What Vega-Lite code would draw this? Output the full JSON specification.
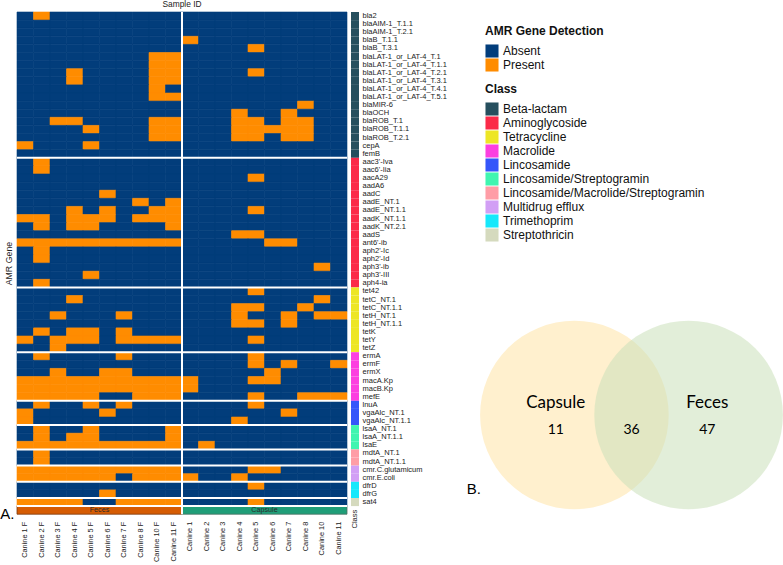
{
"$schema":"https://vega.github.io/schema/vega-lite/v6.json",
"padding":0,
"config":{"view":{"stroke":null},"font":"Liberation Sans","legend":{"padding":0}},
"datasets":{
"cells":[
{"g":"bla2","s":"1 F","v":0},{"g":"bla2","s":"2 F","v":1},{"g":"bla2","s":"3 F","v":0},{"g":"bla2","s":"4 F","v":0},{"g":"bla2","s":"5 F","v":0},{"g":"bla2","s":"6 F","v":0},{"g":"bla2","s":"7 F","v":0},{"g":"bla2","s":"8 F","v":0},{"g":"bla2","s":"10 F","v":0},{"g":"bla2","s":"11 F","v":0},{"g":"bla2","s":"1","v":0},{"g":"bla2","s":"2","v":0},{"g":"bla2","s":"3","v":0},{"g":"bla2","s":"4","v":0},{"g":"bla2","s":"5","v":0},{"g":"bla2","s":"6","v":0},{"g":"bla2","s":"7","v":0},{"g":"bla2","s":"8","v":0},{"g":"bla2","s":"10","v":0},{"g":"bla2","s":"11","v":0},
{"g":"blaAIM-1_T.1.1","s":"1 F","v":0},{"g":"blaAIM-1_T.1.1","s":"2 F","v":0},{"g":"blaAIM-1_T.1.1","s":"3 F","v":0},{"g":"blaAIM-1_T.1.1","s":"4 F","v":0},{"g":"blaAIM-1_T.1.1","s":"5 F","v":0},{"g":"blaAIM-1_T.1.1","s":"6 F","v":0},{"g":"blaAIM-1_T.1.1","s":"7 F","v":0},{"g":"blaAIM-1_T.1.1","s":"8 F","v":0},{"g":"blaAIM-1_T.1.1","s":"10 F","v":0},{"g":"blaAIM-1_T.1.1","s":"11 F","v":0},{"g":"blaAIM-1_T.1.1","s":"1","v":0},{"g":"blaAIM-1_T.1.1","s":"2","v":0},{"g":"blaAIM-1_T.1.1","s":"3","v":0},{"g":"blaAIM-1_T.1.1","s":"4","v":0},{"g":"blaAIM-1_T.1.1","s":"5","v":0},{"g":"blaAIM-1_T.1.1","s":"6","v":0},{"g":"blaAIM-1_T.1.1","s":"7","v":0},{"g":"blaAIM-1_T.1.1","s":"8","v":0},{"g":"blaAIM-1_T.1.1","s":"10","v":0},{"g":"blaAIM-1_T.1.1","s":"11","v":0},
{"g":"blaAIM-1_T.2.1","s":"1 F","v":0},{"g":"blaAIM-1_T.2.1","s":"2 F","v":0},{"g":"blaAIM-1_T.2.1","s":"3 F","v":0},{"g":"blaAIM-1_T.2.1","s":"4 F","v":0},{"g":"blaAIM-1_T.2.1","s":"5 F","v":0},{"g":"blaAIM-1_T.2.1","s":"6 F","v":0},{"g":"blaAIM-1_T.2.1","s":"7 F","v":0},{"g":"blaAIM-1_T.2.1","s":"8 F","v":0},{"g":"blaAIM-1_T.2.1","s":"10 F","v":0},{"g":"blaAIM-1_T.2.1","s":"11 F","v":0},{"g":"blaAIM-1_T.2.1","s":"1","v":0},{"g":"blaAIM-1_T.2.1","s":"2","v":0},{"g":"blaAIM-1_T.2.1","s":"3","v":0},{"g":"blaAIM-1_T.2.1","s":"4","v":0},{"g":"blaAIM-1_T.2.1","s":"5","v":0},{"g":"blaAIM-1_T.2.1","s":"6","v":0},{"g":"blaAIM-1_T.2.1","s":"7","v":0},{"g":"blaAIM-1_T.2.1","s":"8","v":0},{"g":"blaAIM-1_T.2.1","s":"10","v":0},{"g":"blaAIM-1_T.2.1","s":"11","v":0},
{"g":"blaB_T.1.1","s":"1 F","v":0},{"g":"blaB_T.1.1","s":"2 F","v":0},{"g":"blaB_T.1.1","s":"3 F","v":0},{"g":"blaB_T.1.1","s":"4 F","v":0},{"g":"blaB_T.1.1","s":"5 F","v":0},{"g":"blaB_T.1.1","s":"6 F","v":0},{"g":"blaB_T.1.1","s":"7 F","v":0},{"g":"blaB_T.1.1","s":"8 F","v":0},{"g":"blaB_T.1.1","s":"10 F","v":0},{"g":"blaB_T.1.1","s":"11 F","v":0},{"g":"blaB_T.1.1","s":"1","v":1},{"g":"blaB_T.1.1","s":"2","v":0},{"g":"blaB_T.1.1","s":"3","v":0},{"g":"blaB_T.1.1","s":"4","v":0},{"g":"blaB_T.1.1","s":"5","v":0},{"g":"blaB_T.1.1","s":"6","v":0},{"g":"blaB_T.1.1","s":"7","v":0},{"g":"blaB_T.1.1","s":"8","v":0},{"g":"blaB_T.1.1","s":"10","v":0},{"g":"blaB_T.1.1","s":"11","v":0},
{"g":"blaB_T.3.1","s":"1 F","v":0},{"g":"blaB_T.3.1","s":"2 F","v":0},{"g":"blaB_T.3.1","s":"3 F","v":0},{"g":"blaB_T.3.1","s":"4 F","v":0},{"g":"blaB_T.3.1","s":"5 F","v":0},{"g":"blaB_T.3.1","s":"6 F","v":0},{"g":"blaB_T.3.1","s":"7 F","v":0},{"g":"blaB_T.3.1","s":"8 F","v":0},{"g":"blaB_T.3.1","s":"10 F","v":0},{"g":"blaB_T.3.1","s":"11 F","v":0},{"g":"blaB_T.3.1","s":"1","v":0},{"g":"blaB_T.3.1","s":"2","v":0},{"g":"blaB_T.3.1","s":"3","v":0},{"g":"blaB_T.3.1","s":"4","v":0},{"g":"blaB_T.3.1","s":"5","v":1},{"g":"blaB_T.3.1","s":"6","v":0},{"g":"blaB_T.3.1","s":"7","v":0},{"g":"blaB_T.3.1","s":"8","v":0},{"g":"blaB_T.3.1","s":"10","v":0},{"g":"blaB_T.3.1","s":"11","v":0},
{"g":"blaLAT-1_or_LAT-4_T.1","s":"1 F","v":0},{"g":"blaLAT-1_or_LAT-4_T.1","s":"2 F","v":0},{"g":"blaLAT-1_or_LAT-4_T.1","s":"3 F","v":0},{"g":"blaLAT-1_or_LAT-4_T.1","s":"4 F","v":0},{"g":"blaLAT-1_or_LAT-4_T.1","s":"5 F","v":0},{"g":"blaLAT-1_or_LAT-4_T.1","s":"6 F","v":0},{"g":"blaLAT-1_or_LAT-4_T.1","s":"7 F","v":0},{"g":"blaLAT-1_or_LAT-4_T.1","s":"8 F","v":0},{"g":"blaLAT-1_or_LAT-4_T.1","s":"10 F","v":1},{"g":"blaLAT-1_or_LAT-4_T.1","s":"11 F","v":1},{"g":"blaLAT-1_or_LAT-4_T.1","s":"1","v":0},{"g":"blaLAT-1_or_LAT-4_T.1","s":"2","v":0},{"g":"blaLAT-1_or_LAT-4_T.1","s":"3","v":0},{"g":"blaLAT-1_or_LAT-4_T.1","s":"4","v":0},{"g":"blaLAT-1_or_LAT-4_T.1","s":"5","v":0},{"g":"blaLAT-1_or_LAT-4_T.1","s":"6","v":0},{"g":"blaLAT-1_or_LAT-4_T.1","s":"7","v":0},{"g":"blaLAT-1_or_LAT-4_T.1","s":"8","v":0},{"g":"blaLAT-1_or_LAT-4_T.1","s":"10","v":0},{"g":"blaLAT-1_or_LAT-4_T.1","s":"11","v":0},
{"g":"blaLAT-1_or_LAT-4_T.1.1","s":"1 F","v":0},{"g":"blaLAT-1_or_LAT-4_T.1.1","s":"2 F","v":0},{"g":"blaLAT-1_or_LAT-4_T.1.1","s":"3 F","v":0},{"g":"blaLAT-1_or_LAT-4_T.1.1","s":"4 F","v":0},{"g":"blaLAT-1_or_LAT-4_T.1.1","s":"5 F","v":0},{"g":"blaLAT-1_or_LAT-4_T.1.1","s":"6 F","v":0},{"g":"blaLAT-1_or_LAT-4_T.1.1","s":"7 F","v":0},{"g":"blaLAT-1_or_LAT-4_T.1.1","s":"8 F","v":0},{"g":"blaLAT-1_or_LAT-4_T.1.1","s":"10 F","v":1},{"g":"blaLAT-1_or_LAT-4_T.1.1","s":"11 F","v":1},{"g":"blaLAT-1_or_LAT-4_T.1.1","s":"1","v":0},{"g":"blaLAT-1_or_LAT-4_T.1.1","s":"2","v":0},{"g":"blaLAT-1_or_LAT-4_T.1.1","s":"3","v":0},{"g":"blaLAT-1_or_LAT-4_T.1.1","s":"4","v":0},{"g":"blaLAT-1_or_LAT-4_T.1.1","s":"5","v":0},{"g":"blaLAT-1_or_LAT-4_T.1.1","s":"6","v":0},{"g":"blaLAT-1_or_LAT-4_T.1.1","s":"7","v":0},{"g":"blaLAT-1_or_LAT-4_T.1.1","s":"8","v":0},{"g":"blaLAT-1_or_LAT-4_T.1.1","s":"10","v":0},{"g":"blaLAT-1_or_LAT-4_T.1.1","s":"11","v":0},
{"g":"blaLAT-1_or_LAT-4_T.2.1","s":"1 F","v":0},{"g":"blaLAT-1_or_LAT-4_T.2.1","s":"2 F","v":0},{"g":"blaLAT-1_or_LAT-4_T.2.1","s":"3 F","v":0},{"g":"blaLAT-1_or_LAT-4_T.2.1","s":"4 F","v":1},{"g":"blaLAT-1_or_LAT-4_T.2.1","s":"5 F","v":0},{"g":"blaLAT-1_or_LAT-4_T.2.1","s":"6 F","v":0},{"g":"blaLAT-1_or_LAT-4_T.2.1","s":"7 F","v":0},{"g":"blaLAT-1_or_LAT-4_T.2.1","s":"8 F","v":0},{"g":"blaLAT-1_or_LAT-4_T.2.1","s":"10 F","v":1},{"g":"blaLAT-1_or_LAT-4_T.2.1","s":"11 F","v":1},{"g":"blaLAT-1_or_LAT-4_T.2.1","s":"1","v":0},{"g":"blaLAT-1_or_LAT-4_T.2.1","s":"2","v":0},{"g":"blaLAT-1_or_LAT-4_T.2.1","s":"3","v":0},{"g":"blaLAT-1_or_LAT-4_T.2.1","s":"4","v":0},{"g":"blaLAT-1_or_LAT-4_T.2.1","s":"5","v":1},{"g":"blaLAT-1_or_LAT-4_T.2.1","s":"6","v":0},{"g":"blaLAT-1_or_LAT-4_T.2.1","s":"7","v":0},{"g":"blaLAT-1_or_LAT-4_T.2.1","s":"8","v":0},{"g":"blaLAT-1_or_LAT-4_T.2.1","s":"10","v":0},{"g":"blaLAT-1_or_LAT-4_T.2.1","s":"11","v":0},
{"g":"blaLAT-1_or_LAT-4_T.3.1","s":"1 F","v":0},{"g":"blaLAT-1_or_LAT-4_T.3.1","s":"2 F","v":0},{"g":"blaLAT-1_or_LAT-4_T.3.1","s":"3 F","v":0},{"g":"blaLAT-1_or_LAT-4_T.3.1","s":"4 F","v":1},{"g":"blaLAT-1_or_LAT-4_T.3.1","s":"5 F","v":0},{"g":"blaLAT-1_or_LAT-4_T.3.1","s":"6 F","v":0},{"g":"blaLAT-1_or_LAT-4_T.3.1","s":"7 F","v":0},{"g":"blaLAT-1_or_LAT-4_T.3.1","s":"8 F","v":0},{"g":"blaLAT-1_or_LAT-4_T.3.1","s":"10 F","v":1},{"g":"blaLAT-1_or_LAT-4_T.3.1","s":"11 F","v":1},{"g":"blaLAT-1_or_LAT-4_T.3.1","s":"1","v":0},{"g":"blaLAT-1_or_LAT-4_T.3.1","s":"2","v":0},{"g":"blaLAT-1_or_LAT-4_T.3.1","s":"3","v":0},{"g":"blaLAT-1_or_LAT-4_T.3.1","s":"4","v":0},{"g":"blaLAT-1_or_LAT-4_T.3.1","s":"5","v":0},{"g":"blaLAT-1_or_LAT-4_T.3.1","s":"6","v":0},{"g":"blaLAT-1_or_LAT-4_T.3.1","s":"7","v":0},{"g":"blaLAT-1_or_LAT-4_T.3.1","s":"8","v":0},{"g":"blaLAT-1_or_LAT-4_T.3.1","s":"10","v":0},{"g":"blaLAT-1_or_LAT-4_T.3.1","s":"11","v":0},
{"g":"blaLAT-1_or_LAT-4_T.4.1","s":"1 F","v":0},{"g":"blaLAT-1_or_LAT-4_T.4.1","s":"2 F","v":0},{"g":"blaLAT-1_or_LAT-4_T.4.1","s":"3 F","v":0},{"g":"blaLAT-1_or_LAT-4_T.4.1","s":"4 F","v":0},{"g":"blaLAT-1_or_LAT-4_T.4.1","s":"5 F","v":0},{"g":"blaLAT-1_or_LAT-4_T.4.1","s":"6 F","v":0},{"g":"blaLAT-1_or_LAT-4_T.4.1","s":"7 F","v":0},{"g":"blaLAT-1_or_LAT-4_T.4.1","s":"8 F","v":0},{"g":"blaLAT-1_or_LAT-4_T.4.1","s":"10 F","v":1},{"g":"blaLAT-1_or_LAT-4_T.4.1","s":"11 F","v":0},{"g":"blaLAT-1_or_LAT-4_T.4.1","s":"1","v":0},{"g":"blaLAT-1_or_LAT-4_T.4.1","s":"2","v":0},{"g":"blaLAT-1_or_LAT-4_T.4.1","s":"3","v":0},{"g":"blaLAT-1_or_LAT-4_T.4.1","s":"4","v":0},{"g":"blaLAT-1_or_LAT-4_T.4.1","s":"5","v":0},{"g":"blaLAT-1_or_LAT-4_T.4.1","s":"6","v":0},{"g":"blaLAT-1_or_LAT-4_T.4.1","s":"7","v":0},{"g":"blaLAT-1_or_LAT-4_T.4.1","s":"8","v":0},{"g":"blaLAT-1_or_LAT-4_T.4.1","s":"10","v":0},{"g":"blaLAT-1_or_LAT-4_T.4.1","s":"11","v":0},
{"g":"blaLAT-1_or_LAT-4_T.5.1","s":"1 F","v":0},{"g":"blaLAT-1_or_LAT-4_T.5.1","s":"2 F","v":0},{"g":"blaLAT-1_or_LAT-4_T.5.1","s":"3 F","v":0},{"g":"blaLAT-1_or_LAT-4_T.5.1","s":"4 F","v":0},{"g":"blaLAT-1_or_LAT-4_T.5.1","s":"5 F","v":0},{"g":"blaLAT-1_or_LAT-4_T.5.1","s":"6 F","v":0},{"g":"blaLAT-1_or_LAT-4_T.5.1","s":"7 F","v":0},{"g":"blaLAT-1_or_LAT-4_T.5.1","s":"8 F","v":0},{"g":"blaLAT-1_or_LAT-4_T.5.1","s":"10 F","v":1},{"g":"blaLAT-1_or_LAT-4_T.5.1","s":"11 F","v":1},{"g":"blaLAT-1_or_LAT-4_T.5.1","s":"1","v":0},{"g":"blaLAT-1_or_LAT-4_T.5.1","s":"2","v":0},{"g":"blaLAT-1_or_LAT-4_T.5.1","s":"3","v":0},{"g":"blaLAT-1_or_LAT-4_T.5.1","s":"4","v":0},{"g":"blaLAT-1_or_LAT-4_T.5.1","s":"5","v":0},{"g":"blaLAT-1_or_LAT-4_T.5.1","s":"6","v":0},{"g":"blaLAT-1_or_LAT-4_T.5.1","s":"7","v":0},{"g":"blaLAT-1_or_LAT-4_T.5.1","s":"8","v":0},{"g":"blaLAT-1_or_LAT-4_T.5.1","s":"10","v":0},{"g":"blaLAT-1_or_LAT-4_T.5.1","s":"11","v":0},
{"g":"blaMIR-6","s":"1 F","v":0},{"g":"blaMIR-6","s":"2 F","v":0},{"g":"blaMIR-6","s":"3 F","v":0},{"g":"blaMIR-6","s":"4 F","v":0},{"g":"blaMIR-6","s":"5 F","v":0},{"g":"blaMIR-6","s":"6 F","v":0},{"g":"blaMIR-6","s":"7 F","v":0},{"g":"blaMIR-6","s":"8 F","v":0},{"g":"blaMIR-6","s":"10 F","v":0},{"g":"blaMIR-6","s":"11 F","v":0},{"g":"blaMIR-6","s":"1","v":0},{"g":"blaMIR-6","s":"2","v":0},{"g":"blaMIR-6","s":"3","v":0},{"g":"blaMIR-6","s":"4","v":0},{"g":"blaMIR-6","s":"5","v":0},{"g":"blaMIR-6","s":"6","v":0},{"g":"blaMIR-6","s":"7","v":0},{"g":"blaMIR-6","s":"8","v":1},{"g":"blaMIR-6","s":"10","v":0},{"g":"blaMIR-6","s":"11","v":0},
{"g":"blaOCH","s":"1 F","v":0},{"g":"blaOCH","s":"2 F","v":0},{"g":"blaOCH","s":"3 F","v":0},{"g":"blaOCH","s":"4 F","v":0},{"g":"blaOCH","s":"5 F","v":0},{"g":"blaOCH","s":"6 F","v":0},{"g":"blaOCH","s":"7 F","v":0},{"g":"blaOCH","s":"8 F","v":0},{"g":"blaOCH","s":"10 F","v":0},{"g":"blaOCH","s":"11 F","v":0},{"g":"blaOCH","s":"1","v":0},{"g":"blaOCH","s":"2","v":0},{"g":"blaOCH","s":"3","v":0},{"g":"blaOCH","s":"4","v":1},{"g":"blaOCH","s":"5","v":0},{"g":"blaOCH","s":"6","v":0},{"g":"blaOCH","s":"7","v":1},{"g":"blaOCH","s":"8","v":0},{"g":"blaOCH","s":"10","v":0},{"g":"blaOCH","s":"11","v":0},
{"g":"blaROB_T.1","s":"1 F","v":0},{"g":"blaROB_T.1","s":"2 F","v":0},{"g":"blaROB_T.1","s":"3 F","v":1},{"g":"blaROB_T.1","s":"4 F","v":1},{"g":"blaROB_T.1","s":"5 F","v":0},{"g":"blaROB_T.1","s":"6 F","v":0},{"g":"blaROB_T.1","s":"7 F","v":0},{"g":"blaROB_T.1","s":"8 F","v":0},{"g":"blaROB_T.1","s":"10 F","v":1},{"g":"blaROB_T.1","s":"11 F","v":1},{"g":"blaROB_T.1","s":"1","v":0},{"g":"blaROB_T.1","s":"2","v":0},{"g":"blaROB_T.1","s":"3","v":0},{"g":"blaROB_T.1","s":"4","v":1},{"g":"blaROB_T.1","s":"5","v":1},{"g":"blaROB_T.1","s":"6","v":0},{"g":"blaROB_T.1","s":"7","v":1},{"g":"blaROB_T.1","s":"8","v":1},{"g":"blaROB_T.1","s":"10","v":0},{"g":"blaROB_T.1","s":"11","v":0},
{"g":"blaROB_T.1.1","s":"1 F","v":0},{"g":"blaROB_T.1.1","s":"2 F","v":0},{"g":"blaROB_T.1.1","s":"3 F","v":0},{"g":"blaROB_T.1.1","s":"4 F","v":0},{"g":"blaROB_T.1.1","s":"5 F","v":1},{"g":"blaROB_T.1.1","s":"6 F","v":0},{"g":"blaROB_T.1.1","s":"7 F","v":0},{"g":"blaROB_T.1.1","s":"8 F","v":0},{"g":"blaROB_T.1.1","s":"10 F","v":1},{"g":"blaROB_T.1.1","s":"11 F","v":1},{"g":"blaROB_T.1.1","s":"1","v":0},{"g":"blaROB_T.1.1","s":"2","v":0},{"g":"blaROB_T.1.1","s":"3","v":0},{"g":"blaROB_T.1.1","s":"4","v":1},{"g":"blaROB_T.1.1","s":"5","v":1},{"g":"blaROB_T.1.1","s":"6","v":1},{"g":"blaROB_T.1.1","s":"7","v":1},{"g":"blaROB_T.1.1","s":"8","v":1},{"g":"blaROB_T.1.1","s":"10","v":0},{"g":"blaROB_T.1.1","s":"11","v":0},
{"g":"blaROB_T.2.1","s":"1 F","v":0},{"g":"blaROB_T.2.1","s":"2 F","v":0},{"g":"blaROB_T.2.1","s":"3 F","v":0},{"g":"blaROB_T.2.1","s":"4 F","v":0},{"g":"blaROB_T.2.1","s":"5 F","v":0},{"g":"blaROB_T.2.1","s":"6 F","v":0},{"g":"blaROB_T.2.1","s":"7 F","v":0},{"g":"blaROB_T.2.1","s":"8 F","v":0},{"g":"blaROB_T.2.1","s":"10 F","v":1},{"g":"blaROB_T.2.1","s":"11 F","v":1},{"g":"blaROB_T.2.1","s":"1","v":0},{"g":"blaROB_T.2.1","s":"2","v":0},{"g":"blaROB_T.2.1","s":"3","v":0},{"g":"blaROB_T.2.1","s":"4","v":1},{"g":"blaROB_T.2.1","s":"5","v":1},{"g":"blaROB_T.2.1","s":"6","v":0},{"g":"blaROB_T.2.1","s":"7","v":1},{"g":"blaROB_T.2.1","s":"8","v":1},{"g":"blaROB_T.2.1","s":"10","v":0},{"g":"blaROB_T.2.1","s":"11","v":0},
{"g":"cepA","s":"1 F","v":1},{"g":"cepA","s":"2 F","v":0},{"g":"cepA","s":"3 F","v":0},{"g":"cepA","s":"4 F","v":0},{"g":"cepA","s":"5 F","v":1},{"g":"cepA","s":"6 F","v":0},{"g":"cepA","s":"7 F","v":0},{"g":"cepA","s":"8 F","v":0},{"g":"cepA","s":"10 F","v":0},{"g":"cepA","s":"11 F","v":0},{"g":"cepA","s":"1","v":0},{"g":"cepA","s":"2","v":0},{"g":"cepA","s":"3","v":0},{"g":"cepA","s":"4","v":0},{"g":"cepA","s":"5","v":0},{"g":"cepA","s":"6","v":0},{"g":"cepA","s":"7","v":0},{"g":"cepA","s":"8","v":0},{"g":"cepA","s":"10","v":0},{"g":"cepA","s":"11","v":0},
{"g":"femB","s":"1 F","v":0},{"g":"femB","s":"2 F","v":0},{"g":"femB","s":"3 F","v":0},{"g":"femB","s":"4 F","v":0},{"g":"femB","s":"5 F","v":0},{"g":"femB","s":"6 F","v":0},{"g":"femB","s":"7 F","v":0},{"g":"femB","s":"8 F","v":0},{"g":"femB","s":"10 F","v":0},{"g":"femB","s":"11 F","v":0},{"g":"femB","s":"1","v":0},{"g":"femB","s":"2","v":0},{"g":"femB","s":"3","v":0},{"g":"femB","s":"4","v":0},{"g":"femB","s":"5","v":0},{"g":"femB","s":"6","v":0},{"g":"femB","s":"7","v":0},{"g":"femB","s":"8","v":0},{"g":"femB","s":"10","v":0},{"g":"femB","s":"11","v":0},
{"g":"aac3'-Iva","s":"1 F","v":0},{"g":"aac3'-Iva","s":"2 F","v":1},{"g":"aac3'-Iva","s":"3 F","v":0},{"g":"aac3'-Iva","s":"4 F","v":0},{"g":"aac3'-Iva","s":"5 F","v":0},{"g":"aac3'-Iva","s":"6 F","v":0},{"g":"aac3'-Iva","s":"7 F","v":0},{"g":"aac3'-Iva","s":"8 F","v":0},{"g":"aac3'-Iva","s":"10 F","v":0},{"g":"aac3'-Iva","s":"11 F","v":0},{"g":"aac3'-Iva","s":"1","v":0},{"g":"aac3'-Iva","s":"2","v":0},{"g":"aac3'-Iva","s":"3","v":0},{"g":"aac3'-Iva","s":"4","v":0},{"g":"aac3'-Iva","s":"5","v":0},{"g":"aac3'-Iva","s":"6","v":0},{"g":"aac3'-Iva","s":"7","v":0},{"g":"aac3'-Iva","s":"8","v":0},{"g":"aac3'-Iva","s":"10","v":0},{"g":"aac3'-Iva","s":"11","v":0},
{"g":"aac6'-Iia","s":"1 F","v":0},{"g":"aac6'-Iia","s":"2 F","v":1},{"g":"aac6'-Iia","s":"3 F","v":0},{"g":"aac6'-Iia","s":"4 F","v":0},{"g":"aac6'-Iia","s":"5 F","v":0},{"g":"aac6'-Iia","s":"6 F","v":0},{"g":"aac6'-Iia","s":"7 F","v":0},{"g":"aac6'-Iia","s":"8 F","v":0},{"g":"aac6'-Iia","s":"10 F","v":0},{"g":"aac6'-Iia","s":"11 F","v":0},{"g":"aac6'-Iia","s":"1","v":0},{"g":"aac6'-Iia","s":"2","v":0},{"g":"aac6'-Iia","s":"3","v":0},{"g":"aac6'-Iia","s":"4","v":0},{"g":"aac6'-Iia","s":"5","v":0},{"g":"aac6'-Iia","s":"6","v":0},{"g":"aac6'-Iia","s":"7","v":0},{"g":"aac6'-Iia","s":"8","v":0},{"g":"aac6'-Iia","s":"10","v":0},{"g":"aac6'-Iia","s":"11","v":0},
{"g":"aacA29","s":"1 F","v":0},{"g":"aacA29","s":"2 F","v":0},{"g":"aacA29","s":"3 F","v":0},{"g":"aacA29","s":"4 F","v":0},{"g":"aacA29","s":"5 F","v":0},{"g":"aacA29","s":"6 F","v":0},{"g":"aacA29","s":"7 F","v":0},{"g":"aacA29","s":"8 F","v":0},{"g":"aacA29","s":"10 F","v":0},{"g":"aacA29","s":"11 F","v":0},{"g":"aacA29","s":"1","v":0},{"g":"aacA29","s":"2","v":0},{"g":"aacA29","s":"3","v":0},{"g":"aacA29","s":"4","v":0},{"g":"aacA29","s":"5","v":1},{"g":"aacA29","s":"6","v":0},{"g":"aacA29","s":"7","v":0},{"g":"aacA29","s":"8","v":0},{"g":"aacA29","s":"10","v":0},{"g":"aacA29","s":"11","v":0},
{"g":"aadA6","s":"1 F","v":0},{"g":"aadA6","s":"2 F","v":0},{"g":"aadA6","s":"3 F","v":0},{"g":"aadA6","s":"4 F","v":0},{"g":"aadA6","s":"5 F","v":0},{"g":"aadA6","s":"6 F","v":0},{"g":"aadA6","s":"7 F","v":0},{"g":"aadA6","s":"8 F","v":0},{"g":"aadA6","s":"10 F","v":0},{"g":"aadA6","s":"11 F","v":0},{"g":"aadA6","s":"1","v":0},{"g":"aadA6","s":"2","v":0},{"g":"aadA6","s":"3","v":0},{"g":"aadA6","s":"4","v":0},{"g":"aadA6","s":"5","v":0},{"g":"aadA6","s":"6","v":0},{"g":"aadA6","s":"7","v":0},{"g":"aadA6","s":"8","v":0},{"g":"aadA6","s":"10","v":0},{"g":"aadA6","s":"11","v":0},
{"g":"aadC","s":"1 F","v":0},{"g":"aadC","s":"2 F","v":0},{"g":"aadC","s":"3 F","v":0},{"g":"aadC","s":"4 F","v":0},{"g":"aadC","s":"5 F","v":0},{"g":"aadC","s":"6 F","v":1},{"g":"aadC","s":"7 F","v":0},{"g":"aadC","s":"8 F","v":0},{"g":"aadC","s":"10 F","v":0},{"g":"aadC","s":"11 F","v":0},{"g":"aadC","s":"1","v":0},{"g":"aadC","s":"2","v":0},{"g":"aadC","s":"3","v":0},{"g":"aadC","s":"4","v":0},{"g":"aadC","s":"5","v":0},{"g":"aadC","s":"6","v":0},{"g":"aadC","s":"7","v":0},{"g":"aadC","s":"8","v":0},{"g":"aadC","s":"10","v":0},{"g":"aadC","s":"11","v":0},
{"g":"aadE_NT.1","s":"1 F","v":0},{"g":"aadE_NT.1","s":"2 F","v":0},{"g":"aadE_NT.1","s":"3 F","v":0},{"g":"aadE_NT.1","s":"4 F","v":0},{"g":"aadE_NT.1","s":"5 F","v":0},{"g":"aadE_NT.1","s":"6 F","v":0},{"g":"aadE_NT.1","s":"7 F","v":0},{"g":"aadE_NT.1","s":"8 F","v":1},{"g":"aadE_NT.1","s":"10 F","v":0},{"g":"aadE_NT.1","s":"11 F","v":1},{"g":"aadE_NT.1","s":"1","v":0},{"g":"aadE_NT.1","s":"2","v":0},{"g":"aadE_NT.1","s":"3","v":0},{"g":"aadE_NT.1","s":"4","v":0},{"g":"aadE_NT.1","s":"5","v":0},{"g":"aadE_NT.1","s":"6","v":0},{"g":"aadE_NT.1","s":"7","v":0},{"g":"aadE_NT.1","s":"8","v":0},{"g":"aadE_NT.1","s":"10","v":0},{"g":"aadE_NT.1","s":"11","v":0},
{"g":"aadE_NT.1.1","s":"1 F","v":0},{"g":"aadE_NT.1.1","s":"2 F","v":0},{"g":"aadE_NT.1.1","s":"3 F","v":0},{"g":"aadE_NT.1.1","s":"4 F","v":1},{"g":"aadE_NT.1.1","s":"5 F","v":0},{"g":"aadE_NT.1.1","s":"6 F","v":1},{"g":"aadE_NT.1.1","s":"7 F","v":0},{"g":"aadE_NT.1.1","s":"8 F","v":0},{"g":"aadE_NT.1.1","s":"10 F","v":1},{"g":"aadE_NT.1.1","s":"11 F","v":1},{"g":"aadE_NT.1.1","s":"1","v":0},{"g":"aadE_NT.1.1","s":"2","v":0},{"g":"aadE_NT.1.1","s":"3","v":0},{"g":"aadE_NT.1.1","s":"4","v":0},{"g":"aadE_NT.1.1","s":"5","v":1},{"g":"aadE_NT.1.1","s":"6","v":0},{"g":"aadE_NT.1.1","s":"7","v":0},{"g":"aadE_NT.1.1","s":"8","v":0},{"g":"aadE_NT.1.1","s":"10","v":0},{"g":"aadE_NT.1.1","s":"11","v":0},
{"g":"aadK_NT.1.1","s":"1 F","v":1},{"g":"aadK_NT.1.1","s":"2 F","v":1},{"g":"aadK_NT.1.1","s":"3 F","v":0},{"g":"aadK_NT.1.1","s":"4 F","v":1},{"g":"aadK_NT.1.1","s":"5 F","v":1},{"g":"aadK_NT.1.1","s":"6 F","v":1},{"g":"aadK_NT.1.1","s":"7 F","v":0},{"g":"aadK_NT.1.1","s":"8 F","v":1},{"g":"aadK_NT.1.1","s":"10 F","v":1},{"g":"aadK_NT.1.1","s":"11 F","v":1},{"g":"aadK_NT.1.1","s":"1","v":0},{"g":"aadK_NT.1.1","s":"2","v":0},{"g":"aadK_NT.1.1","s":"3","v":0},{"g":"aadK_NT.1.1","s":"4","v":0},{"g":"aadK_NT.1.1","s":"5","v":0},{"g":"aadK_NT.1.1","s":"6","v":0},{"g":"aadK_NT.1.1","s":"7","v":0},{"g":"aadK_NT.1.1","s":"8","v":0},{"g":"aadK_NT.1.1","s":"10","v":0},{"g":"aadK_NT.1.1","s":"11","v":0},
{"g":"aadK_NT.2.1","s":"1 F","v":0},{"g":"aadK_NT.2.1","s":"2 F","v":1},{"g":"aadK_NT.2.1","s":"3 F","v":0},{"g":"aadK_NT.2.1","s":"4 F","v":1},{"g":"aadK_NT.2.1","s":"5 F","v":1},{"g":"aadK_NT.2.1","s":"6 F","v":0},{"g":"aadK_NT.2.1","s":"7 F","v":0},{"g":"aadK_NT.2.1","s":"8 F","v":0},{"g":"aadK_NT.2.1","s":"10 F","v":0},{"g":"aadK_NT.2.1","s":"11 F","v":1},{"g":"aadK_NT.2.1","s":"1","v":0},{"g":"aadK_NT.2.1","s":"2","v":0},{"g":"aadK_NT.2.1","s":"3","v":0},{"g":"aadK_NT.2.1","s":"4","v":0},{"g":"aadK_NT.2.1","s":"5","v":0},{"g":"aadK_NT.2.1","s":"6","v":0},{"g":"aadK_NT.2.1","s":"7","v":0},{"g":"aadK_NT.2.1","s":"8","v":0},{"g":"aadK_NT.2.1","s":"10","v":0},{"g":"aadK_NT.2.1","s":"11","v":0},
{"g":"aadS","s":"1 F","v":0},{"g":"aadS","s":"2 F","v":0},{"g":"aadS","s":"3 F","v":0},{"g":"aadS","s":"4 F","v":0},{"g":"aadS","s":"5 F","v":0},{"g":"aadS","s":"6 F","v":0},{"g":"aadS","s":"7 F","v":0},{"g":"aadS","s":"8 F","v":0},{"g":"aadS","s":"10 F","v":0},{"g":"aadS","s":"11 F","v":0},{"g":"aadS","s":"1","v":0},{"g":"aadS","s":"2","v":0},{"g":"aadS","s":"3","v":0},{"g":"aadS","s":"4","v":1},{"g":"aadS","s":"5","v":1},{"g":"aadS","s":"6","v":0},{"g":"aadS","s":"7","v":0},{"g":"aadS","s":"8","v":0},{"g":"aadS","s":"10","v":0},{"g":"aadS","s":"11","v":0},
{"g":"ant6'-ib","s":"1 F","v":1},{"g":"ant6'-ib","s":"2 F","v":1},{"g":"ant6'-ib","s":"3 F","v":1},{"g":"ant6'-ib","s":"4 F","v":1},{"g":"ant6'-ib","s":"5 F","v":1},{"g":"ant6'-ib","s":"6 F","v":1},{"g":"ant6'-ib","s":"7 F","v":1},{"g":"ant6'-ib","s":"8 F","v":1},{"g":"ant6'-ib","s":"10 F","v":1},{"g":"ant6'-ib","s":"11 F","v":1},{"g":"ant6'-ib","s":"1","v":0},{"g":"ant6'-ib","s":"2","v":0},{"g":"ant6'-ib","s":"3","v":0},{"g":"ant6'-ib","s":"4","v":0},{"g":"ant6'-ib","s":"5","v":0},{"g":"ant6'-ib","s":"6","v":1},{"g":"ant6'-ib","s":"7","v":1},{"g":"ant6'-ib","s":"8","v":0},{"g":"ant6'-ib","s":"10","v":0},{"g":"ant6'-ib","s":"11","v":0},
{"g":"aph2'-Ic","s":"1 F","v":0},{"g":"aph2'-Ic","s":"2 F","v":1},{"g":"aph2'-Ic","s":"3 F","v":0},{"g":"aph2'-Ic","s":"4 F","v":0},{"g":"aph2'-Ic","s":"5 F","v":0},{"g":"aph2'-Ic","s":"6 F","v":0},{"g":"aph2'-Ic","s":"7 F","v":0},{"g":"aph2'-Ic","s":"8 F","v":0},{"g":"aph2'-Ic","s":"10 F","v":0},{"g":"aph2'-Ic","s":"11 F","v":0},{"g":"aph2'-Ic","s":"1","v":0},{"g":"aph2'-Ic","s":"2","v":0},{"g":"aph2'-Ic","s":"3","v":0},{"g":"aph2'-Ic","s":"4","v":0},{"g":"aph2'-Ic","s":"5","v":0},{"g":"aph2'-Ic","s":"6","v":0},{"g":"aph2'-Ic","s":"7","v":0},{"g":"aph2'-Ic","s":"8","v":0},{"g":"aph2'-Ic","s":"10","v":0},{"g":"aph2'-Ic","s":"11","v":0},
{"g":"aph2'-Id","s":"1 F","v":0},{"g":"aph2'-Id","s":"2 F","v":1},{"g":"aph2'-Id","s":"3 F","v":0},{"g":"aph2'-Id","s":"4 F","v":0},{"g":"aph2'-Id","s":"5 F","v":0},{"g":"aph2'-Id","s":"6 F","v":0},{"g":"aph2'-Id","s":"7 F","v":0},{"g":"aph2'-Id","s":"8 F","v":0},{"g":"aph2'-Id","s":"10 F","v":0},{"g":"aph2'-Id","s":"11 F","v":0},{"g":"aph2'-Id","s":"1","v":0},{"g":"aph2'-Id","s":"2","v":0},{"g":"aph2'-Id","s":"3","v":0},{"g":"aph2'-Id","s":"4","v":0},{"g":"aph2'-Id","s":"5","v":0},{"g":"aph2'-Id","s":"6","v":0},{"g":"aph2'-Id","s":"7","v":0},{"g":"aph2'-Id","s":"8","v":0},{"g":"aph2'-Id","s":"10","v":0},{"g":"aph2'-Id","s":"11","v":0},
{"g":"aph3'-ib","s":"1 F","v":0},{"g":"aph3'-ib","s":"2 F","v":0},{"g":"aph3'-ib","s":"3 F","v":0},{"g":"aph3'-ib","s":"4 F","v":0},{"g":"aph3'-ib","s":"5 F","v":0},{"g":"aph3'-ib","s":"6 F","v":0},{"g":"aph3'-ib","s":"7 F","v":0},{"g":"aph3'-ib","s":"8 F","v":0},{"g":"aph3'-ib","s":"10 F","v":0},{"g":"aph3'-ib","s":"11 F","v":0},{"g":"aph3'-ib","s":"1","v":0},{"g":"aph3'-ib","s":"2","v":0},{"g":"aph3'-ib","s":"3","v":0},{"g":"aph3'-ib","s":"4","v":0},{"g":"aph3'-ib","s":"5","v":0},{"g":"aph3'-ib","s":"6","v":0},{"g":"aph3'-ib","s":"7","v":0},{"g":"aph3'-ib","s":"8","v":0},{"g":"aph3'-ib","s":"10","v":1},{"g":"aph3'-ib","s":"11","v":0},
{"g":"aph3'-III","s":"1 F","v":0},{"g":"aph3'-III","s":"2 F","v":0},{"g":"aph3'-III","s":"3 F","v":0},{"g":"aph3'-III","s":"4 F","v":0},{"g":"aph3'-III","s":"5 F","v":1},{"g":"aph3'-III","s":"6 F","v":0},{"g":"aph3'-III","s":"7 F","v":0},{"g":"aph3'-III","s":"8 F","v":0},{"g":"aph3'-III","s":"10 F","v":0},{"g":"aph3'-III","s":"11 F","v":0},{"g":"aph3'-III","s":"1","v":0},{"g":"aph3'-III","s":"2","v":0},{"g":"aph3'-III","s":"3","v":0},{"g":"aph3'-III","s":"4","v":0},{"g":"aph3'-III","s":"5","v":0},{"g":"aph3'-III","s":"6","v":0},{"g":"aph3'-III","s":"7","v":0},{"g":"aph3'-III","s":"8","v":0},{"g":"aph3'-III","s":"10","v":0},{"g":"aph3'-III","s":"11","v":0},
{"g":"aph4-ia","s":"1 F","v":0},{"g":"aph4-ia","s":"2 F","v":1},{"g":"aph4-ia","s":"3 F","v":0},{"g":"aph4-ia","s":"4 F","v":0},{"g":"aph4-ia","s":"5 F","v":0},{"g":"aph4-ia","s":"6 F","v":0},{"g":"aph4-ia","s":"7 F","v":0},{"g":"aph4-ia","s":"8 F","v":0},{"g":"aph4-ia","s":"10 F","v":0},{"g":"aph4-ia","s":"11 F","v":0},{"g":"aph4-ia","s":"1","v":0},{"g":"aph4-ia","s":"2","v":0},{"g":"aph4-ia","s":"3","v":0},{"g":"aph4-ia","s":"4","v":0},{"g":"aph4-ia","s":"5","v":0},{"g":"aph4-ia","s":"6","v":0},{"g":"aph4-ia","s":"7","v":0},{"g":"aph4-ia","s":"8","v":0},{"g":"aph4-ia","s":"10","v":0},{"g":"aph4-ia","s":"11","v":0},
{"g":"tet42","s":"1 F","v":0},{"g":"tet42","s":"2 F","v":0},{"g":"tet42","s":"3 F","v":0},{"g":"tet42","s":"4 F","v":0},{"g":"tet42","s":"5 F","v":0},{"g":"tet42","s":"6 F","v":0},{"g":"tet42","s":"7 F","v":0},{"g":"tet42","s":"8 F","v":0},{"g":"tet42","s":"10 F","v":0},{"g":"tet42","s":"11 F","v":0},{"g":"tet42","s":"1","v":0},{"g":"tet42","s":"2","v":0},{"g":"tet42","s":"3","v":0},{"g":"tet42","s":"4","v":0},{"g":"tet42","s":"5","v":1},{"g":"tet42","s":"6","v":0},{"g":"tet42","s":"7","v":0},{"g":"tet42","s":"8","v":0},{"g":"tet42","s":"10","v":0},{"g":"tet42","s":"11","v":0},
{"g":"tetC_NT.1","s":"1 F","v":0},{"g":"tetC_NT.1","s":"2 F","v":0},{"g":"tetC_NT.1","s":"3 F","v":0},{"g":"tetC_NT.1","s":"4 F","v":1},{"g":"tetC_NT.1","s":"5 F","v":0},{"g":"tetC_NT.1","s":"6 F","v":0},{"g":"tetC_NT.1","s":"7 F","v":0},{"g":"tetC_NT.1","s":"8 F","v":0},{"g":"tetC_NT.1","s":"10 F","v":0},{"g":"tetC_NT.1","s":"11 F","v":0},{"g":"tetC_NT.1","s":"1","v":0},{"g":"tetC_NT.1","s":"2","v":0},{"g":"tetC_NT.1","s":"3","v":0},{"g":"tetC_NT.1","s":"4","v":0},{"g":"tetC_NT.1","s":"5","v":0},{"g":"tetC_NT.1","s":"6","v":0},{"g":"tetC_NT.1","s":"7","v":0},{"g":"tetC_NT.1","s":"8","v":0},{"g":"tetC_NT.1","s":"10","v":1},{"g":"tetC_NT.1","s":"11","v":0},
{"g":"tetC_NT.1.1","s":"1 F","v":0},{"g":"tetC_NT.1.1","s":"2 F","v":0},{"g":"tetC_NT.1.1","s":"3 F","v":0},{"g":"tetC_NT.1.1","s":"4 F","v":0},{"g":"tetC_NT.1.1","s":"5 F","v":0},{"g":"tetC_NT.1.1","s":"6 F","v":0},{"g":"tetC_NT.1.1","s":"7 F","v":0},{"g":"tetC_NT.1.1","s":"8 F","v":0},{"g":"tetC_NT.1.1","s":"10 F","v":0},{"g":"tetC_NT.1.1","s":"11 F","v":0},{"g":"tetC_NT.1.1","s":"1","v":0},{"g":"tetC_NT.1.1","s":"2","v":0},{"g":"tetC_NT.1.1","s":"3","v":0},{"g":"tetC_NT.1.1","s":"4","v":1},{"g":"tetC_NT.1.1","s":"5","v":1},{"g":"tetC_NT.1.1","s":"6","v":0},{"g":"tetC_NT.1.1","s":"7","v":0},{"g":"tetC_NT.1.1","s":"8","v":1},{"g":"tetC_NT.1.1","s":"10","v":0},{"g":"tetC_NT.1.1","s":"11","v":0},
{"g":"tetH_NT.1","s":"1 F","v":0},{"g":"tetH_NT.1","s":"2 F","v":0},{"g":"tetH_NT.1","s":"3 F","v":1},{"g":"tetH_NT.1","s":"4 F","v":0},{"g":"tetH_NT.1","s":"5 F","v":0},{"g":"tetH_NT.1","s":"6 F","v":0},{"g":"tetH_NT.1","s":"7 F","v":1},{"g":"tetH_NT.1","s":"8 F","v":0},{"g":"tetH_NT.1","s":"10 F","v":0},{"g":"tetH_NT.1","s":"11 F","v":0},{"g":"tetH_NT.1","s":"1","v":0},{"g":"tetH_NT.1","s":"2","v":0},{"g":"tetH_NT.1","s":"3","v":0},{"g":"tetH_NT.1","s":"4","v":1},{"g":"tetH_NT.1","s":"5","v":0},{"g":"tetH_NT.1","s":"6","v":0},{"g":"tetH_NT.1","s":"7","v":1},{"g":"tetH_NT.1","s":"8","v":0},{"g":"tetH_NT.1","s":"10","v":1},{"g":"tetH_NT.1","s":"11","v":1},
{"g":"tetH_NT.1.1","s":"1 F","v":0},{"g":"tetH_NT.1.1","s":"2 F","v":0},{"g":"tetH_NT.1.1","s":"3 F","v":0},{"g":"tetH_NT.1.1","s":"4 F","v":0},{"g":"tetH_NT.1.1","s":"5 F","v":0},{"g":"tetH_NT.1.1","s":"6 F","v":0},{"g":"tetH_NT.1.1","s":"7 F","v":0},{"g":"tetH_NT.1.1","s":"8 F","v":0},{"g":"tetH_NT.1.1","s":"10 F","v":0},{"g":"tetH_NT.1.1","s":"11 F","v":0},{"g":"tetH_NT.1.1","s":"1","v":0},{"g":"tetH_NT.1.1","s":"2","v":0},{"g":"tetH_NT.1.1","s":"3","v":0},{"g":"tetH_NT.1.1","s":"4","v":1},{"g":"tetH_NT.1.1","s":"5","v":1},{"g":"tetH_NT.1.1","s":"6","v":0},{"g":"tetH_NT.1.1","s":"7","v":1},{"g":"tetH_NT.1.1","s":"8","v":0},{"g":"tetH_NT.1.1","s":"10","v":0},{"g":"tetH_NT.1.1","s":"11","v":0},
{"g":"tetK","s":"1 F","v":0},{"g":"tetK","s":"2 F","v":1},{"g":"tetK","s":"3 F","v":0},{"g":"tetK","s":"4 F","v":1},{"g":"tetK","s":"5 F","v":1},{"g":"tetK","s":"6 F","v":0},{"g":"tetK","s":"7 F","v":1},{"g":"tetK","s":"8 F","v":0},{"g":"tetK","s":"10 F","v":0},{"g":"tetK","s":"11 F","v":0},{"g":"tetK","s":"1","v":0},{"g":"tetK","s":"2","v":0},{"g":"tetK","s":"3","v":0},{"g":"tetK","s":"4","v":0},{"g":"tetK","s":"5","v":0},{"g":"tetK","s":"6","v":0},{"g":"tetK","s":"7","v":0},{"g":"tetK","s":"8","v":0},{"g":"tetK","s":"10","v":0},{"g":"tetK","s":"11","v":0},
{"g":"tetY","s":"1 F","v":1},{"g":"tetY","s":"2 F","v":0},{"g":"tetY","s":"3 F","v":1},{"g":"tetY","s":"4 F","v":1},{"g":"tetY","s":"5 F","v":1},{"g":"tetY","s":"6 F","v":0},{"g":"tetY","s":"7 F","v":1},{"g":"tetY","s":"8 F","v":1},{"g":"tetY","s":"10 F","v":1},{"g":"tetY","s":"11 F","v":1},{"g":"tetY","s":"1","v":0},{"g":"tetY","s":"2","v":0},{"g":"tetY","s":"3","v":0},{"g":"tetY","s":"4","v":0},{"g":"tetY","s":"5","v":1},{"g":"tetY","s":"6","v":0},{"g":"tetY","s":"7","v":0},{"g":"tetY","s":"8","v":0},{"g":"tetY","s":"10","v":0},{"g":"tetY","s":"11","v":0},
{"g":"tetZ","s":"1 F","v":0},{"g":"tetZ","s":"2 F","v":0},{"g":"tetZ","s":"3 F","v":1},{"g":"tetZ","s":"4 F","v":0},{"g":"tetZ","s":"5 F","v":0},{"g":"tetZ","s":"6 F","v":0},{"g":"tetZ","s":"7 F","v":0},{"g":"tetZ","s":"8 F","v":0},{"g":"tetZ","s":"10 F","v":0},{"g":"tetZ","s":"11 F","v":0},{"g":"tetZ","s":"1","v":0},{"g":"tetZ","s":"2","v":0},{"g":"tetZ","s":"3","v":0},{"g":"tetZ","s":"4","v":0},{"g":"tetZ","s":"5","v":0},{"g":"tetZ","s":"6","v":0},{"g":"tetZ","s":"7","v":0},{"g":"tetZ","s":"8","v":0},{"g":"tetZ","s":"10","v":0},{"g":"tetZ","s":"11","v":0},
{"g":"ermA","s":"1 F","v":0},{"g":"ermA","s":"2 F","v":1},{"g":"ermA","s":"3 F","v":0},{"g":"ermA","s":"4 F","v":0},{"g":"ermA","s":"5 F","v":0},{"g":"ermA","s":"6 F","v":0},{"g":"ermA","s":"7 F","v":1},{"g":"ermA","s":"8 F","v":0},{"g":"ermA","s":"10 F","v":0},{"g":"ermA","s":"11 F","v":0},{"g":"ermA","s":"1","v":0},{"g":"ermA","s":"2","v":0},{"g":"ermA","s":"3","v":0},{"g":"ermA","s":"4","v":0},{"g":"ermA","s":"5","v":1},{"g":"ermA","s":"6","v":0},{"g":"ermA","s":"7","v":0},{"g":"ermA","s":"8","v":0},{"g":"ermA","s":"10","v":0},{"g":"ermA","s":"11","v":0},
{"g":"ermF","s":"1 F","v":0},{"g":"ermF","s":"2 F","v":0},{"g":"ermF","s":"3 F","v":0},{"g":"ermF","s":"4 F","v":0},{"g":"ermF","s":"5 F","v":0},{"g":"ermF","s":"6 F","v":0},{"g":"ermF","s":"7 F","v":0},{"g":"ermF","s":"8 F","v":0},{"g":"ermF","s":"10 F","v":0},{"g":"ermF","s":"11 F","v":0},{"g":"ermF","s":"1","v":0},{"g":"ermF","s":"2","v":0},{"g":"ermF","s":"3","v":0},{"g":"ermF","s":"4","v":0},{"g":"ermF","s":"5","v":1},{"g":"ermF","s":"6","v":0},{"g":"ermF","s":"7","v":1},{"g":"ermF","s":"8","v":0},{"g":"ermF","s":"10","v":0},{"g":"ermF","s":"11","v":1},
{"g":"ermX","s":"1 F","v":0},{"g":"ermX","s":"2 F","v":0},{"g":"ermX","s":"3 F","v":1},{"g":"ermX","s":"4 F","v":0},{"g":"ermX","s":"5 F","v":0},{"g":"ermX","s":"6 F","v":1},{"g":"ermX","s":"7 F","v":1},{"g":"ermX","s":"8 F","v":0},{"g":"ermX","s":"10 F","v":0},{"g":"ermX","s":"11 F","v":0},{"g":"ermX","s":"1","v":0},{"g":"ermX","s":"2","v":0},{"g":"ermX","s":"3","v":0},{"g":"ermX","s":"4","v":0},{"g":"ermX","s":"5","v":0},{"g":"ermX","s":"6","v":1},{"g":"ermX","s":"7","v":0},{"g":"ermX","s":"8","v":0},{"g":"ermX","s":"10","v":0},{"g":"ermX","s":"11","v":0},
{"g":"macA.Kp","s":"1 F","v":1},{"g":"macA.Kp","s":"2 F","v":1},{"g":"macA.Kp","s":"3 F","v":1},{"g":"macA.Kp","s":"4 F","v":1},{"g":"macA.Kp","s":"5 F","v":1},{"g":"macA.Kp","s":"6 F","v":1},{"g":"macA.Kp","s":"7 F","v":1},{"g":"macA.Kp","s":"8 F","v":1},{"g":"macA.Kp","s":"10 F","v":1},{"g":"macA.Kp","s":"11 F","v":1},{"g":"macA.Kp","s":"1","v":1},{"g":"macA.Kp","s":"2","v":0},{"g":"macA.Kp","s":"3","v":0},{"g":"macA.Kp","s":"4","v":0},{"g":"macA.Kp","s":"5","v":1},{"g":"macA.Kp","s":"6","v":1},{"g":"macA.Kp","s":"7","v":0},{"g":"macA.Kp","s":"8","v":0},{"g":"macA.Kp","s":"10","v":0},{"g":"macA.Kp","s":"11","v":0},
{"g":"macB.Kp","s":"1 F","v":1},{"g":"macB.Kp","s":"2 F","v":1},{"g":"macB.Kp","s":"3 F","v":1},{"g":"macB.Kp","s":"4 F","v":1},{"g":"macB.Kp","s":"5 F","v":1},{"g":"macB.Kp","s":"6 F","v":1},{"g":"macB.Kp","s":"7 F","v":1},{"g":"macB.Kp","s":"8 F","v":1},{"g":"macB.Kp","s":"10 F","v":1},{"g":"macB.Kp","s":"11 F","v":1},{"g":"macB.Kp","s":"1","v":1},{"g":"macB.Kp","s":"2","v":0},{"g":"macB.Kp","s":"3","v":0},{"g":"macB.Kp","s":"4","v":0},{"g":"macB.Kp","s":"5","v":0},{"g":"macB.Kp","s":"6","v":0},{"g":"macB.Kp","s":"7","v":0},{"g":"macB.Kp","s":"8","v":0},{"g":"macB.Kp","s":"10","v":0},{"g":"macB.Kp","s":"11","v":0},
{"g":"mefE","s":"1 F","v":1},{"g":"mefE","s":"2 F","v":1},{"g":"mefE","s":"3 F","v":1},{"g":"mefE","s":"4 F","v":1},{"g":"mefE","s":"5 F","v":1},{"g":"mefE","s":"6 F","v":0},{"g":"mefE","s":"7 F","v":0},{"g":"mefE","s":"8 F","v":1},{"g":"mefE","s":"10 F","v":1},{"g":"mefE","s":"11 F","v":1},{"g":"mefE","s":"1","v":0},{"g":"mefE","s":"2","v":0},{"g":"mefE","s":"3","v":0},{"g":"mefE","s":"4","v":0},{"g":"mefE","s":"5","v":1},{"g":"mefE","s":"6","v":0},{"g":"mefE","s":"7","v":0},{"g":"mefE","s":"8","v":1},{"g":"mefE","s":"10","v":1},{"g":"mefE","s":"11","v":1},
{"g":"lnuA","s":"1 F","v":0},{"g":"lnuA","s":"2 F","v":1},{"g":"lnuA","s":"3 F","v":0},{"g":"lnuA","s":"4 F","v":0},{"g":"lnuA","s":"5 F","v":1},{"g":"lnuA","s":"6 F","v":0},{"g":"lnuA","s":"7 F","v":1},{"g":"lnuA","s":"8 F","v":0},{"g":"lnuA","s":"10 F","v":0},{"g":"lnuA","s":"11 F","v":0},{"g":"lnuA","s":"1","v":0},{"g":"lnuA","s":"2","v":0},{"g":"lnuA","s":"3","v":0},{"g":"lnuA","s":"4","v":0},{"g":"lnuA","s":"5","v":1},{"g":"lnuA","s":"6","v":0},{"g":"lnuA","s":"7","v":0},{"g":"lnuA","s":"8","v":0},{"g":"lnuA","s":"10","v":0},{"g":"lnuA","s":"11","v":0},
{"g":"vgaAlc_NT.1","s":"1 F","v":1},{"g":"vgaAlc_NT.1","s":"2 F","v":0},{"g":"vgaAlc_NT.1","s":"3 F","v":0},{"g":"vgaAlc_NT.1","s":"4 F","v":0},{"g":"vgaAlc_NT.1","s":"5 F","v":0},{"g":"vgaAlc_NT.1","s":"6 F","v":1},{"g":"vgaAlc_NT.1","s":"7 F","v":0},{"g":"vgaAlc_NT.1","s":"8 F","v":0},{"g":"vgaAlc_NT.1","s":"10 F","v":0},{"g":"vgaAlc_NT.1","s":"11 F","v":0},{"g":"vgaAlc_NT.1","s":"1","v":0},{"g":"vgaAlc_NT.1","s":"2","v":0},{"g":"vgaAlc_NT.1","s":"3","v":0},{"g":"vgaAlc_NT.1","s":"4","v":0},{"g":"vgaAlc_NT.1","s":"5","v":0},{"g":"vgaAlc_NT.1","s":"6","v":0},{"g":"vgaAlc_NT.1","s":"7","v":1},{"g":"vgaAlc_NT.1","s":"8","v":0},{"g":"vgaAlc_NT.1","s":"10","v":0},{"g":"vgaAlc_NT.1","s":"11","v":0},
{"g":"vgaAlc_NT.1.1","s":"1 F","v":1},{"g":"vgaAlc_NT.1.1","s":"2 F","v":0},{"g":"vgaAlc_NT.1.1","s":"3 F","v":0},{"g":"vgaAlc_NT.1.1","s":"4 F","v":0},{"g":"vgaAlc_NT.1.1","s":"5 F","v":0},{"g":"vgaAlc_NT.1.1","s":"6 F","v":0},{"g":"vgaAlc_NT.1.1","s":"7 F","v":0},{"g":"vgaAlc_NT.1.1","s":"8 F","v":0},{"g":"vgaAlc_NT.1.1","s":"10 F","v":0},{"g":"vgaAlc_NT.1.1","s":"11 F","v":0},{"g":"vgaAlc_NT.1.1","s":"1","v":0},{"g":"vgaAlc_NT.1.1","s":"2","v":0},{"g":"vgaAlc_NT.1.1","s":"3","v":0},{"g":"vgaAlc_NT.1.1","s":"4","v":1},{"g":"vgaAlc_NT.1.1","s":"5","v":0},{"g":"vgaAlc_NT.1.1","s":"6","v":0},{"g":"vgaAlc_NT.1.1","s":"7","v":0},{"g":"vgaAlc_NT.1.1","s":"8","v":0},{"g":"vgaAlc_NT.1.1","s":"10","v":0},{"g":"vgaAlc_NT.1.1","s":"11","v":0},
{"g":"lsaA_NT.1","s":"1 F","v":0},{"g":"lsaA_NT.1","s":"2 F","v":1},{"g":"lsaA_NT.1","s":"3 F","v":0},{"g":"lsaA_NT.1","s":"4 F","v":0},{"g":"lsaA_NT.1","s":"5 F","v":1},{"g":"lsaA_NT.1","s":"6 F","v":0},{"g":"lsaA_NT.1","s":"7 F","v":0},{"g":"lsaA_NT.1","s":"8 F","v":0},{"g":"lsaA_NT.1","s":"10 F","v":0},{"g":"lsaA_NT.1","s":"11 F","v":1},{"g":"lsaA_NT.1","s":"1","v":0},{"g":"lsaA_NT.1","s":"2","v":0},{"g":"lsaA_NT.1","s":"3","v":0},{"g":"lsaA_NT.1","s":"4","v":0},{"g":"lsaA_NT.1","s":"5","v":0},{"g":"lsaA_NT.1","s":"6","v":0},{"g":"lsaA_NT.1","s":"7","v":0},{"g":"lsaA_NT.1","s":"8","v":0},{"g":"lsaA_NT.1","s":"10","v":0},{"g":"lsaA_NT.1","s":"11","v":0},
{"g":"lsaA_NT.1.1","s":"1 F","v":0},{"g":"lsaA_NT.1.1","s":"2 F","v":1},{"g":"lsaA_NT.1.1","s":"3 F","v":0},{"g":"lsaA_NT.1.1","s":"4 F","v":1},{"g":"lsaA_NT.1.1","s":"5 F","v":1},{"g":"lsaA_NT.1.1","s":"6 F","v":0},{"g":"lsaA_NT.1.1","s":"7 F","v":0},{"g":"lsaA_NT.1.1","s":"8 F","v":0},{"g":"lsaA_NT.1.1","s":"10 F","v":0},{"g":"lsaA_NT.1.1","s":"11 F","v":1},{"g":"lsaA_NT.1.1","s":"1","v":0},{"g":"lsaA_NT.1.1","s":"2","v":0},{"g":"lsaA_NT.1.1","s":"3","v":0},{"g":"lsaA_NT.1.1","s":"4","v":0},{"g":"lsaA_NT.1.1","s":"5","v":0},{"g":"lsaA_NT.1.1","s":"6","v":0},{"g":"lsaA_NT.1.1","s":"7","v":0},{"g":"lsaA_NT.1.1","s":"8","v":0},{"g":"lsaA_NT.1.1","s":"10","v":0},{"g":"lsaA_NT.1.1","s":"11","v":0},
{"g":"lsaE","s":"1 F","v":1},{"g":"lsaE","s":"2 F","v":1},{"g":"lsaE","s":"3 F","v":1},{"g":"lsaE","s":"4 F","v":1},{"g":"lsaE","s":"5 F","v":1},{"g":"lsaE","s":"6 F","v":1},{"g":"lsaE","s":"7 F","v":1},{"g":"lsaE","s":"8 F","v":1},{"g":"lsaE","s":"10 F","v":1},{"g":"lsaE","s":"11 F","v":1},{"g":"lsaE","s":"1","v":0},{"g":"lsaE","s":"2","v":1},{"g":"lsaE","s":"3","v":0},{"g":"lsaE","s":"4","v":0},{"g":"lsaE","s":"5","v":0},{"g":"lsaE","s":"6","v":0},{"g":"lsaE","s":"7","v":0},{"g":"lsaE","s":"8","v":0},{"g":"lsaE","s":"10","v":0},{"g":"lsaE","s":"11","v":0},
{"g":"mdtA_NT.1","s":"1 F","v":0},{"g":"mdtA_NT.1","s":"2 F","v":1},{"g":"mdtA_NT.1","s":"3 F","v":0},{"g":"mdtA_NT.1","s":"4 F","v":0},{"g":"mdtA_NT.1","s":"5 F","v":0},{"g":"mdtA_NT.1","s":"6 F","v":0},{"g":"mdtA_NT.1","s":"7 F","v":0},{"g":"mdtA_NT.1","s":"8 F","v":0},{"g":"mdtA_NT.1","s":"10 F","v":0},{"g":"mdtA_NT.1","s":"11 F","v":0},{"g":"mdtA_NT.1","s":"1","v":0},{"g":"mdtA_NT.1","s":"2","v":0},{"g":"mdtA_NT.1","s":"3","v":0},{"g":"mdtA_NT.1","s":"4","v":0},{"g":"mdtA_NT.1","s":"5","v":0},{"g":"mdtA_NT.1","s":"6","v":0},{"g":"mdtA_NT.1","s":"7","v":0},{"g":"mdtA_NT.1","s":"8","v":0},{"g":"mdtA_NT.1","s":"10","v":0},{"g":"mdtA_NT.1","s":"11","v":0},
{"g":"mdtA_NT.1.1","s":"1 F","v":0},{"g":"mdtA_NT.1.1","s":"2 F","v":1},{"g":"mdtA_NT.1.1","s":"3 F","v":0},{"g":"mdtA_NT.1.1","s":"4 F","v":0},{"g":"mdtA_NT.1.1","s":"5 F","v":0},{"g":"mdtA_NT.1.1","s":"6 F","v":0},{"g":"mdtA_NT.1.1","s":"7 F","v":0},{"g":"mdtA_NT.1.1","s":"8 F","v":0},{"g":"mdtA_NT.1.1","s":"10 F","v":0},{"g":"mdtA_NT.1.1","s":"11 F","v":0},{"g":"mdtA_NT.1.1","s":"1","v":0},{"g":"mdtA_NT.1.1","s":"2","v":0},{"g":"mdtA_NT.1.1","s":"3","v":0},{"g":"mdtA_NT.1.1","s":"4","v":0},{"g":"mdtA_NT.1.1","s":"5","v":0},{"g":"mdtA_NT.1.1","s":"6","v":0},{"g":"mdtA_NT.1.1","s":"7","v":0},{"g":"mdtA_NT.1.1","s":"8","v":0},{"g":"mdtA_NT.1.1","s":"10","v":0},{"g":"mdtA_NT.1.1","s":"11","v":0},
{"g":"cmr.C.glutamicum","s":"1 F","v":1},{"g":"cmr.C.glutamicum","s":"2 F","v":1},{"g":"cmr.C.glutamicum","s":"3 F","v":1},{"g":"cmr.C.glutamicum","s":"4 F","v":1},{"g":"cmr.C.glutamicum","s":"5 F","v":1},{"g":"cmr.C.glutamicum","s":"6 F","v":1},{"g":"cmr.C.glutamicum","s":"7 F","v":1},{"g":"cmr.C.glutamicum","s":"8 F","v":1},{"g":"cmr.C.glutamicum","s":"10 F","v":1},{"g":"cmr.C.glutamicum","s":"11 F","v":1},{"g":"cmr.C.glutamicum","s":"1","v":0},{"g":"cmr.C.glutamicum","s":"2","v":0},{"g":"cmr.C.glutamicum","s":"3","v":0},{"g":"cmr.C.glutamicum","s":"4","v":0},{"g":"cmr.C.glutamicum","s":"5","v":1},{"g":"cmr.C.glutamicum","s":"6","v":1},{"g":"cmr.C.glutamicum","s":"7","v":0},{"g":"cmr.C.glutamicum","s":"8","v":0},{"g":"cmr.C.glutamicum","s":"10","v":0},{"g":"cmr.C.glutamicum","s":"11","v":0},
{"g":"cmr.E.coli","s":"1 F","v":1},{"g":"cmr.E.coli","s":"2 F","v":1},{"g":"cmr.E.coli","s":"3 F","v":1},{"g":"cmr.E.coli","s":"4 F","v":1},{"g":"cmr.E.coli","s":"5 F","v":1},{"g":"cmr.E.coli","s":"6 F","v":1},{"g":"cmr.E.coli","s":"7 F","v":0},{"g":"cmr.E.coli","s":"8 F","v":1},{"g":"cmr.E.coli","s":"10 F","v":1},{"g":"cmr.E.coli","s":"11 F","v":1},{"g":"cmr.E.coli","s":"1","v":1},{"g":"cmr.E.coli","s":"2","v":0},{"g":"cmr.E.coli","s":"3","v":0},{"g":"cmr.E.coli","s":"4","v":1},{"g":"cmr.E.coli","s":"5","v":0},{"g":"cmr.E.coli","s":"6","v":0},{"g":"cmr.E.coli","s":"7","v":0},{"g":"cmr.E.coli","s":"8","v":0},{"g":"cmr.E.coli","s":"10","v":0},{"g":"cmr.E.coli","s":"11","v":0},
{"g":"dfrD","s":"1 F","v":0},{"g":"dfrD","s":"2 F","v":0},{"g":"dfrD","s":"3 F","v":0},{"g":"dfrD","s":"4 F","v":0},{"g":"dfrD","s":"5 F","v":0},{"g":"dfrD","s":"6 F","v":0},{"g":"dfrD","s":"7 F","v":0},{"g":"dfrD","s":"8 F","v":0},{"g":"dfrD","s":"10 F","v":0},{"g":"dfrD","s":"11 F","v":0},{"g":"dfrD","s":"1","v":0},{"g":"dfrD","s":"2","v":0},{"g":"dfrD","s":"3","v":0},{"g":"dfrD","s":"4","v":0},{"g":"dfrD","s":"5","v":1},{"g":"dfrD","s":"6","v":0},{"g":"dfrD","s":"7","v":0},{"g":"dfrD","s":"8","v":0},{"g":"dfrD","s":"10","v":0},{"g":"dfrD","s":"11","v":0},
{"g":"dfrG","s":"1 F","v":0},{"g":"dfrG","s":"2 F","v":0},{"g":"dfrG","s":"3 F","v":0},{"g":"dfrG","s":"4 F","v":0},{"g":"dfrG","s":"5 F","v":0},{"g":"dfrG","s":"6 F","v":1},{"g":"dfrG","s":"7 F","v":0},{"g":"dfrG","s":"8 F","v":0},{"g":"dfrG","s":"10 F","v":0},{"g":"dfrG","s":"11 F","v":0},{"g":"dfrG","s":"1","v":0},{"g":"dfrG","s":"2","v":0},{"g":"dfrG","s":"3","v":0},{"g":"dfrG","s":"4","v":0},{"g":"dfrG","s":"5","v":0},{"g":"dfrG","s":"6","v":0},{"g":"dfrG","s":"7","v":0},{"g":"dfrG","s":"8","v":0},{"g":"dfrG","s":"10","v":0},{"g":"dfrG","s":"11","v":0},
{"g":"sat4","s":"1 F","v":1},{"g":"sat4","s":"2 F","v":1},{"g":"sat4","s":"3 F","v":1},{"g":"sat4","s":"4 F","v":1},{"g":"sat4","s":"5 F","v":0},{"g":"sat4","s":"6 F","v":0},{"g":"sat4","s":"7 F","v":1},{"g":"sat4","s":"8 F","v":1},{"g":"sat4","s":"10 F","v":1},{"g":"sat4","s":"11 F","v":1},{"g":"sat4","s":"1","v":0},{"g":"sat4","s":"2","v":0},{"g":"sat4","s":"3","v":0},{"g":"sat4","s":"4","v":0},{"g":"sat4","s":"5","v":1},{"g":"sat4","s":"6","v":0},{"g":"sat4","s":"7","v":0},{"g":"sat4","s":"8","v":0},{"g":"sat4","s":"10","v":0},{"g":"sat4","s":"11","v":0}
],
"genes":[
{"g":"bla2","c":"Beta-lactam"},{"g":"blaAIM-1_T.1.1","c":"Beta-lactam"},{"g":"blaAIM-1_T.2.1","c":"Beta-lactam"},{"g":"blaB_T.1.1","c":"Beta-lactam"},{"g":"blaB_T.3.1","c":"Beta-lactam"},{"g":"blaLAT-1_or_LAT-4_T.1","c":"Beta-lactam"},{"g":"blaLAT-1_or_LAT-4_T.1.1","c":"Beta-lactam"},{"g":"blaLAT-1_or_LAT-4_T.2.1","c":"Beta-lactam"},{"g":"blaLAT-1_or_LAT-4_T.3.1","c":"Beta-lactam"},{"g":"blaLAT-1_or_LAT-4_T.4.1","c":"Beta-lactam"},{"g":"blaLAT-1_or_LAT-4_T.5.1","c":"Beta-lactam"},{"g":"blaMIR-6","c":"Beta-lactam"},{"g":"blaOCH","c":"Beta-lactam"},{"g":"blaROB_T.1","c":"Beta-lactam"},{"g":"blaROB_T.1.1","c":"Beta-lactam"},{"g":"blaROB_T.2.1","c":"Beta-lactam"},{"g":"cepA","c":"Beta-lactam"},{"g":"femB","c":"Beta-lactam"},
{"g":"aac3'-Iva","c":"Aminoglycoside"},{"g":"aac6'-Iia","c":"Aminoglycoside"},{"g":"aacA29","c":"Aminoglycoside"},{"g":"aadA6","c":"Aminoglycoside"},{"g":"aadC","c":"Aminoglycoside"},{"g":"aadE_NT.1","c":"Aminoglycoside"},{"g":"aadE_NT.1.1","c":"Aminoglycoside"},{"g":"aadK_NT.1.1","c":"Aminoglycoside"},{"g":"aadK_NT.2.1","c":"Aminoglycoside"},{"g":"aadS","c":"Aminoglycoside"},{"g":"ant6'-ib","c":"Aminoglycoside"},{"g":"aph2'-Ic","c":"Aminoglycoside"},{"g":"aph2'-Id","c":"Aminoglycoside"},{"g":"aph3'-ib","c":"Aminoglycoside"},{"g":"aph3'-III","c":"Aminoglycoside"},{"g":"aph4-ia","c":"Aminoglycoside"},
{"g":"tet42","c":"Tetracycline"},{"g":"tetC_NT.1","c":"Tetracycline"},{"g":"tetC_NT.1.1","c":"Tetracycline"},{"g":"tetH_NT.1","c":"Tetracycline"},{"g":"tetH_NT.1.1","c":"Tetracycline"},{"g":"tetK","c":"Tetracycline"},{"g":"tetY","c":"Tetracycline"},{"g":"tetZ","c":"Tetracycline"},
{"g":"ermA","c":"Macrolide"},{"g":"ermF","c":"Macrolide"},{"g":"ermX","c":"Macrolide"},{"g":"macA.Kp","c":"Macrolide"},{"g":"macB.Kp","c":"Macrolide"},{"g":"mefE","c":"Macrolide"},
{"g":"lnuA","c":"Lincosamide"},{"g":"vgaAlc_NT.1","c":"Lincosamide"},{"g":"vgaAlc_NT.1.1","c":"Lincosamide"},
{"g":"lsaA_NT.1","c":"Lincosamide/Streptogramin"},{"g":"lsaA_NT.1.1","c":"Lincosamide/Streptogramin"},{"g":"lsaE","c":"Lincosamide/Streptogramin"},
{"g":"mdtA_NT.1","c":"Lincosamide/Macrolide/Streptogramin"},{"g":"mdtA_NT.1.1","c":"Lincosamide/Macrolide/Streptogramin"},
{"g":"cmr.C.glutamicum","c":"Multidrug efflux"},{"g":"cmr.E.coli","c":"Multidrug efflux"},
{"g":"dfrD","c":"Trimethoprim"},{"g":"dfrG","c":"Trimethoprim"},
{"g":"sat4","c":"Streptothricin"}
],
"groups":[{"g":"Sample type","grp":"Feces","first":"1 F","last":"11 F"},{"g":"Sample type","grp":"Capsule","first":"1","last":"11"}],
"venn":[{"set":"Capsule"},{"set":"Feces"}],
"regions":[{"region":"Capsule","name":"Capsule","n":11},{"region":"Both","name":"","n":36},{"region":"Feces","name":"Feces","n":47}]
},
"spacing":19,
"hconcat":[
{"spacing":2,"hconcat":[
{"width":330,"height":502.2,
 "title":{"text":"Sample ID","fontSize":8.4,"fontWeight":"normal","color":"#222","offset":2.5,"anchor":"middle"},
 "layer":[
  {"data":{"name":"cells"},"mark":{"type":"rect","strokeWidth":0.6},
   "encoding":{
    "x":{"field":"s","type":"nominal","title":null,"scale":{"domain":["1 F","2 F","3 F","4 F","5 F","6 F","7 F","8 F","10 F","11 F","1","2","3","4","5","6","7","8","10","11"],"paddingInner":0,"paddingOuter":0},
         "axis":{"labelAngle":-90,"labelExpr":"'Canine ' + datum.value","labelFontSize":7.4,"ticks":false,"domain":false,"labelPadding":7,"labelColor":"#222","labelOverlap":false}},
    "y":{"field":"g","type":"nominal","title":"AMR Gene","scale":{"domain":["bla2","blaAIM-1_T.1.1","blaAIM-1_T.2.1","blaB_T.1.1","blaB_T.3.1","blaLAT-1_or_LAT-4_T.1","blaLAT-1_or_LAT-4_T.1.1","blaLAT-1_or_LAT-4_T.2.1","blaLAT-1_or_LAT-4_T.3.1","blaLAT-1_or_LAT-4_T.4.1","blaLAT-1_or_LAT-4_T.5.1","blaMIR-6","blaOCH","blaROB_T.1","blaROB_T.1.1","blaROB_T.2.1","cepA","femB","aac3'-Iva","aac6'-Iia","aacA29","aadA6","aadC","aadE_NT.1","aadE_NT.1.1","aadK_NT.1.1","aadK_NT.2.1","aadS","ant6'-ib","aph2'-Ic","aph2'-Id","aph3'-ib","aph3'-III","aph4-ia","tet42","tetC_NT.1","tetC_NT.1.1","tetH_NT.1","tetH_NT.1.1","tetK","tetY","tetZ","ermA","ermF","ermX","macA.Kp","macB.Kp","mefE","lnuA","vgaAlc_NT.1","vgaAlc_NT.1.1","lsaA_NT.1","lsaA_NT.1.1","lsaE","mdtA_NT.1","mdtA_NT.1.1","cmr.C.glutamicum","cmr.E.coli","dfrD","dfrG","sat4","Sample type"],"paddingInner":0,"paddingOuter":0},
         "axis":{"labels":false,"ticks":false,"domain":false,"titleFontSize":8.8,"titleFontWeight":"normal","titlePadding":4,"titleColor":"#222"}},
    "color":{"field":"v","type":"nominal","scale":{"domain":[0,1],"range":["#023D7B","#FF8C00"]},
      "legend":{"title":"AMR Gene Detection","orient":"none","legendX":468,"legendY":14,"symbolType":"square","symbolSize":170,"symbolStrokeWidth":0,"symbolOpacity":1,"labelFontSize":12,"titleFontSize":12,"titleFontWeight":"bold","titleColor":"#111","labelColor":"#111","rowPadding":-0.6,"titlePadding":6,"labelOffset":4,"labelExpr":"datum.value == 1 ? 'Present' : 'Absent'"}},
    "stroke":{"condition":{"test":"datum.v == 1","value":"#FF8C00"},"value":"#023D7B"}
   }},
  {"data":{"name":"genes"},"transform":[{"window":[{"op":"row_number","as":"rn"}],"groupby":["c"]},{"filter":"datum.rn == 1 && datum.c != 'Beta-lactam'"}],
   "mark":{"type":"rule","color":"white","strokeWidth":2},
   "encoding":{"y":{"field":"g","type":"nominal","title":"AMR Gene","bandPosition":0}}},
  {"data":{"name":"groups"},"mark":{"type":"rect","strokeWidth":0.8},
   "encoding":{
    "x":{"field":"first","type":"nominal","title":null,"bandPosition":0},
    "x2":{"field":"last","bandPosition":1},
    "y":{"field":"g","type":"nominal","title":"AMR Gene"},
    "fill":{"condition":{"test":"datum.grp == 'Feces'","value":"#D65C03"},"value":"#1F9E78"},
    "stroke":{"condition":{"test":"datum.grp == 'Feces'","value":"#7A3A10"},"value":"#4E6E62"}}},
  {"data":{"name":"groups"},"mark":{"type":"rule","color":"white","strokeWidth":2},
   "encoding":{"y":{"field":"g","type":"nominal","title":"AMR Gene","bandPosition":0}}},
  {"data":{"name":"groups"},"transform":[{"filter":"datum.grp == 'Capsule'"}],"mark":{"type":"rule","color":"white","strokeWidth":2},
   "encoding":{"x":{"field":"first","type":"nominal","title":null,"bandPosition":0}}},
  {"data":{"name":"groups"},"mark":{"type":"text","fontSize":7.2,"color":"#2a2a2a","baseline":"middle","align":"center","dx":82.5},
   "encoding":{
    "x":{"field":"first","type":"nominal","title":null,"bandPosition":0},
    "y":{"field":"g","type":"nominal","title":"AMR Gene"},
    "text":{"field":"grp"}}},
  {"data":{"name":"groups"},"transform":[{"filter":"datum.grp == 'Feces'"}],"mark":{"type":"text","text":"A.","fontSize":15,"color":"#000","baseline":"middle","align":"right","dx":-2.5,"dy":4},
   "encoding":{
    "x":{"field":"first","type":"nominal","title":null,"bandPosition":0},
    "y":{"field":"g","type":"nominal","title":"AMR Gene"}}}
 ]},
{"width":8,"height":494.1,
 "title":{"text":" ","fontSize":8.4,"offset":2.5},
 "data":{"name":"genes"},
 "mark":{"type":"rect"},
 "encoding":{
  "x":{"datum":"Class","type":"nominal","scale":{"paddingInner":0,"paddingOuter":0},"axis":{"title":null,"labelAngle":-90,"labelFontSize":7.6,"ticks":false,"domain":false,"labelPadding":3,"labelColor":"#222"}},
  "y":{"field":"g","type":"nominal","sort":null,"scale":{"paddingInner":0,"paddingOuter":0},"axis":{"orient":"right","title":null,"ticks":false,"domain":false,"labelFontSize":7.5,"labelPadding":3,"labelColor":"#222","labelOverlap":false}},
  "fill":{"field":"c","type":"nominal","scale":{"domain":["Beta-lactam","Aminoglycoside","Tetracycline","Macrolide","Lincosamide","Lincosamide/Streptogramin","Lincosamide/Macrolide/Streptogramin","Multidrug efflux","Trimethoprim","Streptothricin"],"range":["#264F5E","#FB2A48","#EDE625","#FC3FE0","#3556FA","#40F5B0","#FF9DA6","#D29FF5","#16E8FB","#D5DABE"]},
    "legend":{"title":"Class","orient":"none","legendX":468,"legendY":72,"symbolType":"square","symbolSize":170,"symbolStrokeWidth":0,"symbolOpacity":1,"labelFontSize":12,"titleFontSize":12,"titleFontWeight":"bold","titleColor":"#111","labelColor":"#111","rowPadding":-0.1,"titlePadding":6,"labelOffset":4,"labelLimit":300}}
 }}
]},
{"width":303,"height":520,
 "resolve":{"scale":{"x":"independent"}},
 "layer":[
  {"data":{"name":"venn"},
   "layer":[
    {"mark":{"type":"point","shape":"circle","filled":true,"size":35570,"strokeWidth":0},
     "encoding":{
      "x":{"field":"set","type":"nominal","scale":{"type":"point","domain":["Capsule","Feces"],"padding":0.8266},"axis":null},
      "y":{"datum":"v","type":"nominal","scale":{"type":"point","align":0.775},"axis":null},
      "fill":{"condition":{"test":"datum.set == 'Capsule'","value":"#FFF0CE"},"value":"#CAE0BA"},
      "opacity":{"condition":{"test":"datum.set == 'Capsule'","value":1},"value":0.55}}},
    {"transform":[{"filter":"datum.set == 'Capsule'"}],
     "mark":{"type":"text","text":"B.","fontSize":15,"color":"#000","align":"right","baseline":"middle","dx":-93.4,"dy":74},
     "encoding":{"x":{"field":"set","type":"nominal","axis":null},"y":{"datum":"v","type":"nominal","axis":null}}}
   ]},
  {"data":{"name":"regions"},
   "layer":[
    {"mark":{"type":"text","font":"Lato","fontSize":17,"color":"#000","align":"center","baseline":"alphabetic","dy":-6.7},
     "encoding":{
      "x":{"field":"region","type":"nominal","scale":{"type":"point","domain":["Capsule","Both","Feces"],"padding":1.141},"axis":null},
      "y":{"datum":"v","type":"nominal","axis":null},
      "text":{"field":"name"}}},
    {"mark":{"type":"text","font":"Lato","fontSize":14,"color":"#000","align":"center","baseline":"alphabetic","dy":19},
     "encoding":{
      "x":{"field":"region","type":"nominal","axis":null},
      "y":{"datum":"v","type":"nominal","axis":null},
      "text":{"field":"n"}}}
   ]}
 ]}
]
}
